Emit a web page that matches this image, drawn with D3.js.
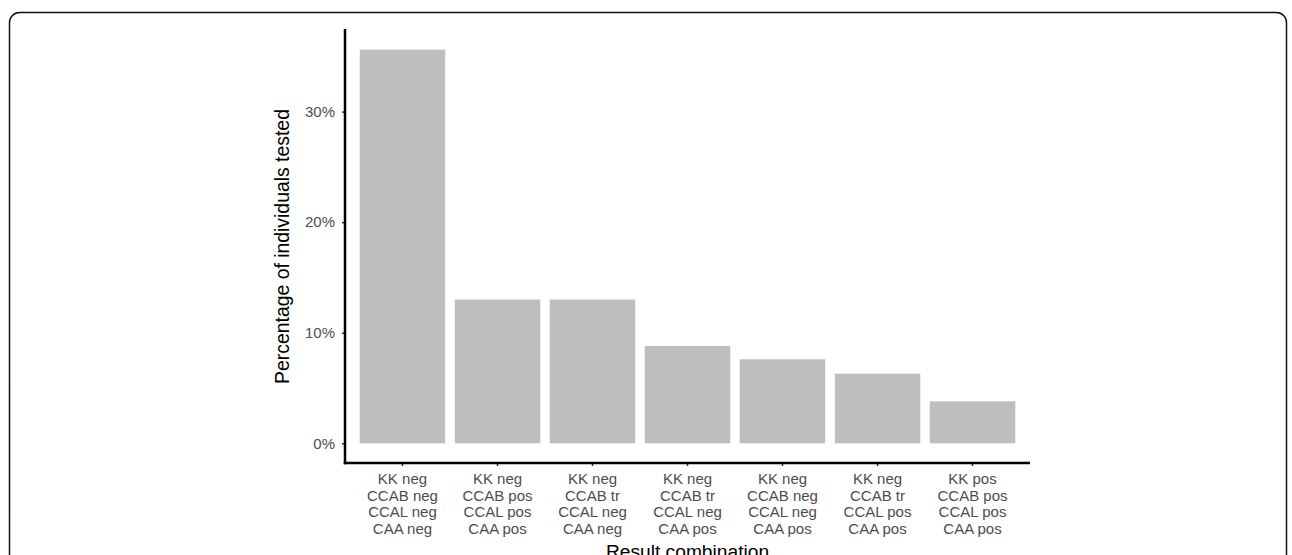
<!DOCTYPE html>
<html>
<head>
<meta charset="utf-8">
<script src="https://cdn.jsdelivr.net/npm/d3@7"></script>
<style>
  html, body { margin: 0; padding: 0; background: #ffffff; }
  svg { display: block; }
  text { font-family: "Liberation Sans", Arial, sans-serif; }
</style>
</head>
<body>
<svg id="chart" width="1292" height="555"></svg>
<script>
const categories = [
  ["KK neg", "CCAB neg", "CCAL neg", "CAA neg"],
  ["KK neg", "CCAB pos", "CCAL pos", "CAA pos"],
  ["KK neg", "CCAB tr", "CCAL neg", "CAA neg"],
  ["KK neg", "CCAB tr", "CCAL neg", "CAA pos"],
  ["KK neg", "CCAB neg", "CCAL neg", "CAA pos"],
  ["KK neg", "CCAB tr", "CCAL pos", "CAA pos"],
  ["KK pos", "CCAB pos", "CCAL pos", "CAA pos"]
];
const values = [35.6, 13.0, 13.0, 8.8, 7.6, 6.3, 3.8];
const yTicks = [0, 10, 20, 30];
const yTitle = "Percentage of individuals tested";
const xTitle = "Result combination";

const svg = d3.select("#chart");

// outer rounded frame
svg.append("rect")
  .attr("x", 9.5).attr("y", 12.5)
  .attr("width", 1277).attr("height", 600)
  .attr("rx", 10).attr("ry", 10)
  .attr("fill", "none").attr("stroke", "#111").attr("stroke-width", 1.5);

const pLeft = 345, pRight = 1030, pTop = 30, pBottom = 463;
const keys = categories.map((d, i) => i);

const x = d3.scaleBand().domain(keys).range([pLeft, pRight])
  .paddingInner(0.1).paddingOuter(0.155);
const maxV = d3.max(values);
const y = d3.scaleLinear().domain([-0.05 * maxV, maxV * 1.05]).range([pBottom, pTop]);

// bars
svg.append("g").selectAll("rect").data(values).join("rect")
  .attr("x", (d, i) => x(i))
  .attr("width", x.bandwidth())
  .attr("y", d => y(d))
  .attr("height", d => y(0) - y(d))
  .attr("fill", "#bebebe");

// y axis
const yAxis = svg.append("g").attr("transform", `translate(${pLeft},0)`)
  .call(d3.axisLeft(y).tickValues(yTicks).tickFormat(d => d + "%").tickSize(3).tickPadding(7));
yAxis.select(".domain").remove();
yAxis.selectAll(".tick line").attr("stroke", "#333").attr("stroke-width", 1.5);
yAxis.selectAll(".tick text").attr("fill", "#4d4d4d").style("font-size", "15px")
  .style("font-family", "'Liberation Sans', Arial, sans-serif");

// x axis
const xAxis = svg.append("g").attr("transform", `translate(0,${pBottom})`)
  .call(d3.axisBottom(x).tickSize(3).tickFormat(""));
xAxis.select(".domain").remove();
xAxis.selectAll(".tick line").attr("stroke", "#333").attr("stroke-width", 1.5);
xAxis.selectAll(".tick").each(function(d) {
  const t = d3.select(this).append("text")
    .attr("text-anchor", "middle")
    .attr("fill", "#4d4d4d")
    .style("font-size", "15px")
    .style("font-family", "'Liberation Sans', Arial, sans-serif");
  categories[d].forEach((line, j) => {
    t.append("tspan").attr("x", 0).attr("y", 21 + j * 16.7).text(line);
  });
});

// axis lines
svg.append("line").attr("x1", pLeft).attr("x2", pLeft).attr("y1", pTop - 1).attr("y2", pBottom + 1.25)
  .attr("stroke", "#000").attr("stroke-width", 2.5);
svg.append("line").attr("x1", pLeft - 1.25).attr("x2", pRight).attr("y1", pBottom).attr("y2", pBottom)
  .attr("stroke", "#000").attr("stroke-width", 2.5);

// titles
svg.append("text")
  .attr("transform", `translate(289,${(pTop + pBottom) / 2}) rotate(-90)`)
  .attr("text-anchor", "middle")
  .attr("fill", "#000")
  .style("font-size", "19.4px")
  .text(yTitle);
svg.append("text")
  .attr("x", (pLeft + pRight) / 2).attr("y", 558)
  .attr("text-anchor", "middle")
  .attr("fill", "#000")
  .style("font-size", "19.2px")
  .text(xTitle);
</script>
</body>
</html>
